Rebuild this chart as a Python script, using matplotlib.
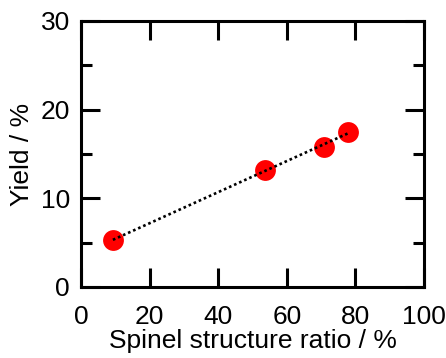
import numpy as np
import matplotlib.pyplot as plt
from matplotlib.ticker import MultipleLocator

spinel_ratio = [9.3, 53.5, 70.7, 77.9]
yield_pct = [5.3, 13.2, 15.8, 17.5]

plt.rcParams['font.family'] = ['Liberation Sans', 'DejaVu Sans']

fig = plt.figure(figsize=(4.46, 3.58), dpi=100)
ax = fig.add_axes([81 / 446, 1 - 287 / 358, 343 / 446, 266 / 358])

# linear fit drawn as dotted line between first and last point
k, b = np.polyfit(spinel_ratio, yield_pct, 1)
xs = np.array([min(spinel_ratio), max(spinel_ratio)])
ax.plot(xs, k * xs + b, color='black', lw=1.9, dashes=(1, 1.1), zorder=3)
ax.plot(spinel_ratio, yield_pct, 'o', color='#ff0000', ms=15, mec='none', zorder=2)

ax.set_xlim(0, 100)
ax.set_ylim(0, 30)
ax.xaxis.set_major_locator(MultipleLocator(20))
ax.yaxis.set_major_locator(MultipleLocator(10))
ax.yaxis.set_minor_locator(MultipleLocator(5))

ax.tick_params(which='both', direction='in', top=True, right=True, width=2.2, labelsize=19)
ax.tick_params(which='major', length=14, pad=8)
ax.tick_params(axis='x', which='major', pad=13)
ax.tick_params(which='minor', length=8)
for s in ax.spines.values():
    s.set_linewidth(2.2)

ax.set_xlabel('Spinel structure ratio / %', fontsize=19, labelpad=0)
ax.set_ylabel('Yield / %', fontsize=19, labelpad=5)

fig.savefig('out.png', dpi=100)
